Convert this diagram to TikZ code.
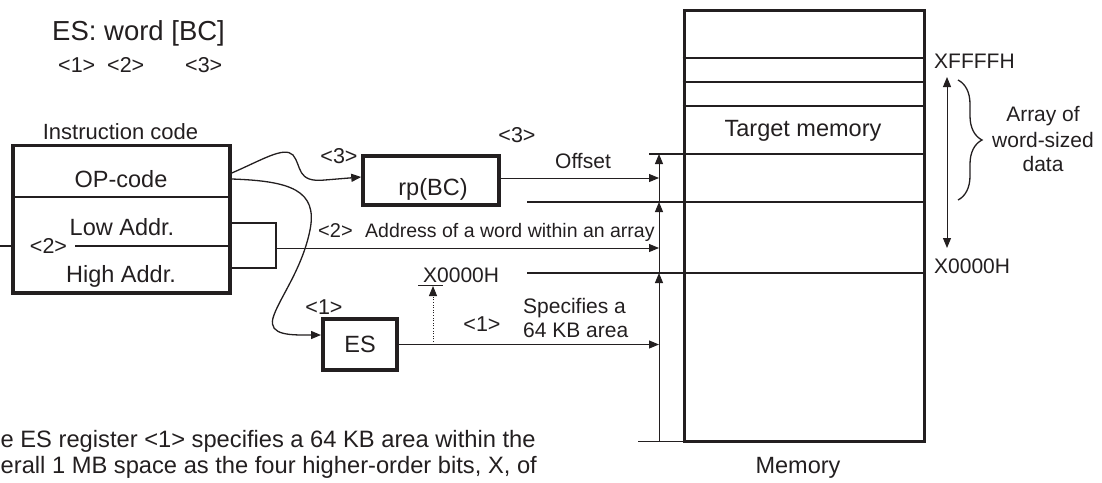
\documentclass[tikz,border=0pt]{standalone}
\usepackage{fontspec}
\setmainfont{Liberation Sans}
\usetikzlibrary{arrows.meta,decorations.pathreplacing}
\definecolor{ink}{HTML}{231F20}
\begin{document}
\begin{tikzpicture}[x=1pt,y=-1pt,
  txt/.style={inner sep=0pt, text=ink, font=\fontsize{21}{24}\selectfont},
  bigtxt/.style={inner sep=0pt, text=ink, font=\fontsize{23.5}{26}\selectfont},
  smalltxt/.style={inner sep=0pt, text=ink, font=\fontsize{19.5}{22}\selectfont},
  thickbox/.style={draw=ink, line width=3.5pt, inner sep=0pt},
  divider/.style={draw=ink, line width=1.5pt},
  conn/.style={draw=ink, line width=1.3pt},
  arr/.style={draw=ink, line width=1pt, -{Triangle[length=10pt,width=8pt]}},
  curvearr/.style={draw=ink, line width=1.3pt, -{Triangle[length=10pt,width=8pt]}},
]
\useasboundingbox (0,0) rectangle (1102,482);

% title
\node[inner sep=0pt, text=ink, font=\fontsize{27.5}{30}\selectfont, anchor=base west] (title) at (52,40) {ES: word [BC]};
\node[txt, font=\fontsize{21.5}{24}\selectfont, anchor=base west] (t1) at (58,72) {<1>};
\node[txt, font=\fontsize{21.5}{24}\selectfont, anchor=base west] (t2) at (107,72) {<2>};
\node[txt, font=\fontsize{21.5}{24}\selectfont, anchor=base west] (t3) at (185,72) {<3>};

% instruction code box
\node[txt, font=\fontsize{22}{24}\selectfont, anchor=base] (iclabel) at (120.5,139) {Instruction code};
\node[thickbox, minimum width=217pt, minimum height=147.5pt] (ic) at (121.5,219.25) {};
\draw[divider] (ic.west |- 0,197) -- (ic.east |- 0,197);
\draw[divider] (0,246) -- (15,246);
\draw[divider] (75,246) -- (ic.east |- 0,246);
\node[txt, font=\fontsize{21.5}{24}\selectfont, anchor=base] (lbltwo) at (48.5,253) {<2>};
\node[bigtxt, anchor=base] (opcode) at (121,187) {OP-code};
\node[bigtxt, anchor=base] (lowaddr) at (122,235) {Low Addr.};
\node[bigtxt, anchor=base] (highaddr) at (121,282) {High Addr.};

% bracket from low/high address
\coordinate (brtop) at (276,223);
\coordinate (brbot) at (276,268);
\coordinate (brmid) at (276,248);
\draw[conn] (ic.east |- brtop) -- (brtop) -- (brbot) -- (ic.east |- brbot);

% rp(BC) and ES boxes
\node[thickbox, minimum width=136pt, minimum height=49pt] (rp) at (431,180.5) {};
\node[bigtxt, anchor=base] (rptext) at (433,195) {rp(BC)};
\node[thickbox, line width=4pt, minimum width=74pt, minimum height=51pt] (es) at (360,344.5) {};
\node[bigtxt, anchor=base] (estext) at (360,352) {ES};

\node[txt, font=\fontsize{21.5}{24}\selectfont, anchor=base] (l3a) at (339,163) {<3>};
\node[txt, font=\fontsize{21.5}{24}\selectfont, anchor=base] (l3b) at (517,142) {<3>};
\node[txt, font=\fontsize{21.5}{24}\selectfont, anchor=base] (l1a) at (324,314) {<1>};
\node[txt, font=\fontsize{21.5}{24}\selectfont, anchor=base] (l1b) at (482,331) {<1>};

% curves from OP-code
\draw[curvearr] (ic.east |- 0,173) .. controls (262,160) and (284,146) .. (293,155)
  .. controls (302,166) and (296,183) .. (325,180) -- ([yshift=3.5pt]rp.west);
\draw[curvearr] (ic.east |- 0,179) .. controls (290,181) and (318,190) .. (310,230)
  .. controls (302,270) and (278,300) .. (273,318)
  .. controls (268,336) and (292,335) .. ([yshift=9.5pt]es.west);

% memory
\node[draw=ink, line width=3pt, inner sep=0pt, minimum width=240.5pt, minimum height=431pt] (mem) at (804.25,225.5) {};
\draw[divider] (mem.west |- 0,58) -- (mem.east |- 0,58);
\draw[divider] (mem.west |- 0,82) -- (mem.east |- 0,82);
\draw[divider] (mem.west |- 0,106) -- (mem.east |- 0,106);
\draw[divider] (649,154) -- (mem.east |- 0,154);
\draw[divider] (527,202) -- (mem.east |- 0,202);
\draw[divider] (527,273) -- (mem.east |- 0,273);
\draw[divider] (638,441.5) -- (mem.west |- 0,441.5);
\node[bigtxt, anchor=base] (target) at (803,136) {Target memory};
\node[bigtxt, anchor=base] (memlabel) at (798,473) {Memory};

% vertical address arrows
\coordinate (v1) at (659,154);
\coordinate (v2) at (659,202);
\coordinate (v3) at (659,273);
\coordinate (v4) at (659,441.5);
\draw[arr] (v2) -- (v1);
\draw[arr] (v3) -- (v2);
\draw[arr] (v4) -- (v3);

% horizontal arrows
\coordinate (a3) at (659,178);
\coordinate (a2) at (659,248);
\coordinate (a1) at (659,344.5);
\draw[arr] (rp.east |- a3) -- (a3);
\draw[arr] (brmid) -- (a2);
\draw[arr] (es.east) -- (a1);

\node[txt, anchor=base] (offset) at (583,168) {Offset};
\node[smalltxt, font=\fontsize{20}{22}\selectfont, anchor=base west] (l2b) at (318,237) {<2>};
\node[smalltxt, anchor=base west] (addr) at (365,237) {Address of a word within an array};
\node[txt, anchor=base west] (spec1) at (523,313) {Specifies a};
\node[txt, anchor=base west] (spec2) at (523,337) {64 KB area};

% X0000H marker with dotted arrow
\node[txt, anchor=base west] (xmid) at (423,282) {X0000H};
\coordinate (tickl) at (418,285);
\coordinate (tickr) at (443,285);
\draw[draw=ink, line width=1pt] (tickl) -- (tickr);
\coordinate (dotbot) at (433,344.5);
\coordinate (dottop) at (433,286);
\draw[draw=ink, line width=1pt, dash pattern=on 1pt off 1.6pt, -{Triangle[length=10pt,width=8pt]}] (dotbot) -- (dottop);

% right side annotations
\node[txt, anchor=base west] (xffff) at (934,68) {XFFFFH};
\node[txt, anchor=base west] (x0000) at (934,273) {X0000H};
\coordinate (dtop) at (947,77);
\coordinate (dbot) at (947,248);
\draw[draw=ink, line width=1pt, {Triangle[length=10pt,width=8pt]}-{Triangle[length=10pt,width=8pt]}] (dtop) -- (dbot);
\coordinate (brace1) at (958,80);
\coordinate (brace2) at (958,200);
\draw[draw=ink, line width=1.3pt, decorate, decoration={brace, amplitude=24pt}] (brace1) -- (brace2);
\node[txt, anchor=base] (arr1) at (1043,121) {Array of};
\node[txt, anchor=base] (arr2) at (1043,147) {word-sized};
\node[txt, anchor=base] (arr3) at (1043,171) {data};

% bottom text
\node[inner sep=0pt, text=ink, font=\fontsize{23.7}{27}\selectfont, anchor=base west] (bt1) at (0.5,447) {e ES register <1> specifies a 64 KB area within the};
\node[inner sep=0pt, text=ink, font=\fontsize{23.7}{27}\selectfont, anchor=base west] (bt2) at (0.5,473) {erall 1 MB space as the four higher-order bits, X, of};
\end{tikzpicture}
\end{document}
